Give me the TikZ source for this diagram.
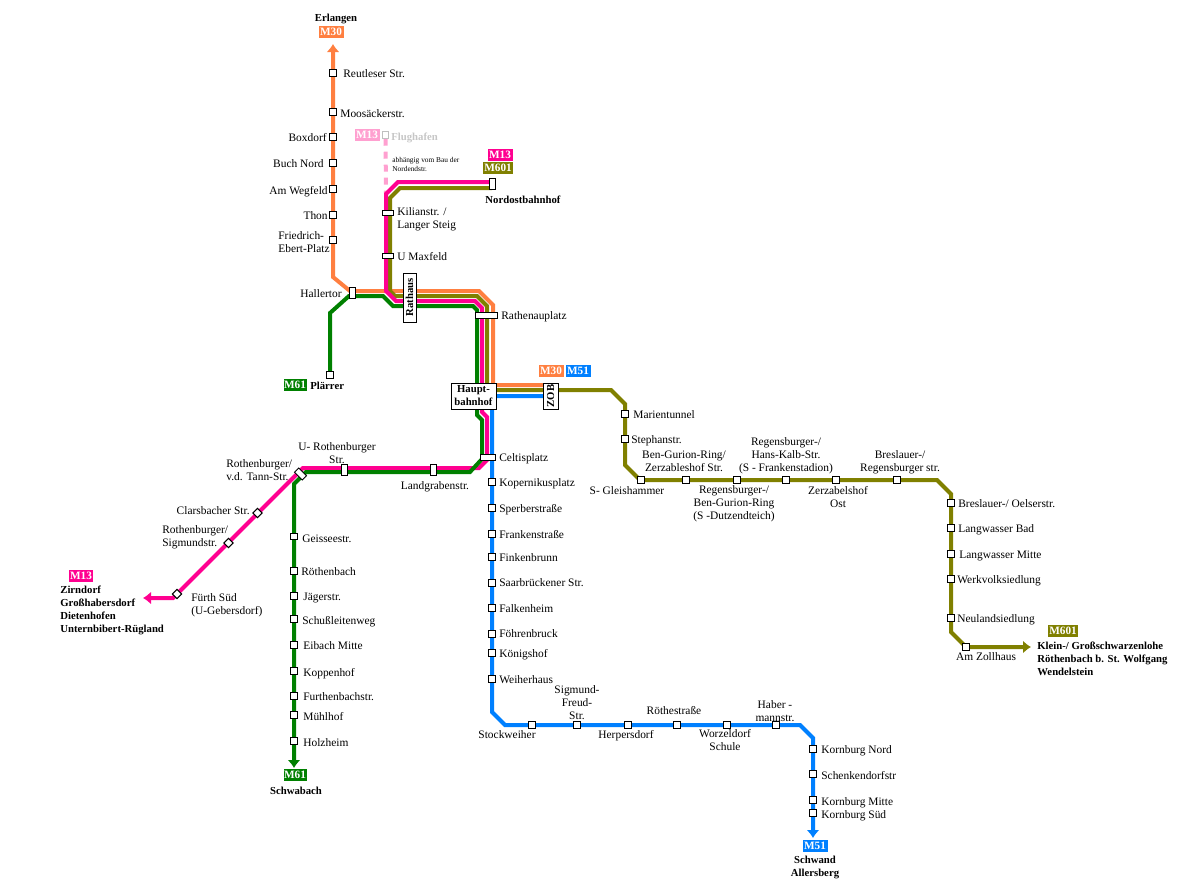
\documentclass[tikz,border=0pt]{standalone}
\usepackage{fontspec}
\setmainfont{Liberation Serif}
\usetikzlibrary{arrows.meta,backgrounds}
\definecolor{coltre}{HTML}{FF7F40}
\definecolor{colpink}{HTML}{FF0090}
\definecolor{colpale}{HTML}{FFA0D0}
\definecolor{cololive}{HTML}{808000}
\definecolor{colgreen}{HTML}{008000}
\definecolor{colblue}{HTML}{0080FF}
\newcommand{\lblsize}{\fontsize{6.5}{7.4}\selectfont}
\newcommand{\destsize}{\fontsize{6.1}{7.4}\selectfont\bfseries}
\newcommand{\tinysize}{\fontsize{4.2}{5.2}\selectfont}
\tikzset{
  stop/.style={draw,fill=white,line width=.55pt,inner sep=0pt,minimum width=.13cm,minimum height=.13cm},
  stopv/.style={stop,minimum width=.12cm,minimum height=.22cm},
  stoph/.style={stop,minimum width=.22cm,minimum height=.11cm},
  stopd/.style={stop,rotate=45},
  bigbox/.style={draw,fill=white,line width=.55pt,inner sep=0pt,font=\destsize,align=center},
  lbl/.style={font=\lblsize,inner sep=0pt,align=center,yshift=-.03cm,execute at begin node=\strut,execute at end node=\strut},
  lblw/.style={lbl,anchor=west,align=left},
  lble/.style={lbl,anchor=east,align=right},
  dest/.style={lbl,font=\destsize},
  tag/.style={fill=#1,text=white,font=\fontsize{6.4}{7.4}\selectfont\bfseries,inner sep=0pt,minimum height=.25cm,minimum width=.5cm},
  track/.style={line width=.08cm},
  tip/.style={-{Latex[length=.16cm,width=.26cm]}},
}
\begin{document}
\begin{tikzpicture}[x=.02cm,y=-.02cm]
  \useasboundingbox (0,0) rectangle (1200,890);
  % stops, M30 north
  \node[stop] (reutleser) at (333,73) {};
  \node[stop] (moosacker) at (333,112) {};
  \node[stop] (boxdorf) at (333,137) {};
  \node[stop] (buchnord) at (333,163) {};
  \node[stop] (wegfeld) at (333,189) {};
  \node[stop] (thon) at (333,215) {};
  \node[stop] (ebert) at (333,240) {};
  \node[stopv] (hallertor) at (352,293) {};
  \node[stop] (plaerrer) at (330,375) {};
  % stops, M13 and M601 north
  \node[stop,draw=gray!50] (flughafen) at (385.5,135) {};
  \node[stopv] (nordost) at (492,184) {};
  \node[stoph] (kilian) at (388,213) {};
  \node[stoph] (maxfeld) at (388,256) {};
  \node[stop,minimum width=.44cm,minimum height=.12cm] (rathenau) at (486,315) {};
  \node[bigbox,rotate=90,minimum width=.98cm,minimum height=.26cm] (rathaus) at (409.5,297.5) {Rathaus};
  \node[bigbox,minimum width=.9cm,minimum height=.52cm] (hbf) at (473.5,396) {Haupt-\\bahnhof};
  \node[bigbox,rotate=90,minimum width=.52cm,minimum height=.3cm] (zob) at (550.5,396) {ZOB};
  \node[stop,minimum width=.3cm,minimum height=.12cm] (celtis) at (488,457) {};
  % stops, M13 and M61 west
  \node[stopv] (landgraben) at (433,470) {};
  \node[stopv] (urothen) at (344,470) {};
  \node[stopv,rotate=45] (tann) at (300.5,474) {};
  \node[stopd] (clarsbach) at (257.5,513) {};
  \node[stopd] (sigmund) at (228.5,543) {};
  \node[stopd] (fuerth) at (177,594) {};
  \node[stop] (geisse) at (294,536.5) {};
  \node[stop] (roethenb) at (294,571) {};
  \node[stop] (jaeger) at (294,596) {};
  \node[stop] (schuss) at (294,619) {};
  \node[stop] (eibach) at (294,645) {};
  \node[stop] (koppen) at (294,671) {};
  \node[stop] (furthen) at (294,696) {};
  \node[stop] (muehlhof) at (294,715) {};
  \node[stop] (holzheim) at (294,741) {};
  % stops, M51
  \node[stop] (kopern) at (492,482) {};
  \node[stop] (sperber) at (492,508) {};
  \node[stop] (franken) at (492,534) {};
  \node[stop] (finken) at (492,557) {};
  \node[stop] (saar) at (492,583) {};
  \node[stop] (falken) at (492,608) {};
  \node[stop] (foehren) at (492,634) {};
  \node[stop] (koenig) at (492,653) {};
  \node[stop] (weiher) at (492,679) {};
  \node[stop] (stockw) at (532,725) {};
  \node[stop] (freud) at (577,725) {};
  \node[stop] (herpers) at (628,725) {};
  \node[stop] (roethe) at (677,725) {};
  \node[stop] (worzel) at (727,725) {};
  \node[stop] (haber) at (776,725) {};
  \node[stop] (knord) at (813,749) {};
  \node[stop] (schenk) at (813,774) {};
  \node[stop] (kmitte) at (813,800) {};
  \node[stop] (ksued) at (813,813) {};
  % stops, M601 east
  \node[stop] (marien) at (625,414) {};
  \node[stop] (stephan) at (625,439) {};
  \node[stop] (gleish) at (641,480) {};
  \node[stop] (bengurion) at (686,480) {};
  \node[stop] (dutzend) at (737,480) {};
  \node[stop] (kalb) at (786,480) {};
  \node[stop] (zerzab) at (836,480) {};
  \node[stop] (bresreg) at (897,480) {};
  \node[stop] (oelser) at (951,503) {};
  \node[stop] (lwbad) at (951,528) {};
  \node[stop] (lwmitte) at (951,554) {};
  \node[stop] (werkv) at (951,579) {};
  \node[stop] (neuland) at (951,618) {};
  \node[stop] (zollhaus) at (966,647) {};
  % bends and free ends
  \coordinate (m30end) at (333,44);
  \coordinate (m30a) at (333,277);
  \coordinate (m30b) at (350,291);
  \coordinate (m30c) at (479,291);
  \coordinate (m30d) at (493,305);
  \coordinate (m30e) at (493,385);
  \coordinate (m30f) at (545,385);
  \coordinate (olva) at (492,188);
  \coordinate (olvb) at (400,188);
  \coordinate (olvc) at (390,198);
  \coordinate (olvd) at (390,291);
  \coordinate (olve) at (395,296);
  \coordinate (olvf) at (477,296);
  \coordinate (olvg) at (487,306);
  \coordinate (olvh) at (487,390);
  \coordinate (olvi) at (611,390);
  \coordinate (olvj) at (625,404);
  \coordinate (olvk) at (625,465);
  \coordinate (olvl) at (640,480);
  \coordinate (olvm) at (937,480);
  \coordinate (olvn) at (951,494);
  \coordinate (olvo) at (951,632);
  \coordinate (olvp) at (966,647);
  \coordinate (m601end) at (1031,647);
  \coordinate (pnka) at (492,182);
  \coordinate (pnkb) at (398,182);
  \coordinate (pnkc) at (386,194);
  \coordinate (pnkd) at (386,291);
  \coordinate (pnke) at (396,301);
  \coordinate (pnkf) at (475,301);
  \coordinate (pnkg) at (482,308);
  \coordinate (pnkh) at (482,412);
  \coordinate (pnki) at (487,417);
  \coordinate (pnkj) at (487,460);
  \coordinate (pnkk) at (479,468);
  \coordinate (pnkl) at (303,468);
  \coordinate (pnkm) at (173,598);
  \coordinate (m13end) at (143,598);
  \coordinate (grna) at (330,313);
  \coordinate (grnb) at (349,296);
  \coordinate (grnc) at (383,296);
  \coordinate (grnd) at (393,306);
  \coordinate (grne) at (473,306);
  \coordinate (grnf) at (477,310);
  \coordinate (grng) at (477,415);
  \coordinate (grnh) at (482,420);
  \coordinate (grni) at (482,459);
  \coordinate (grnj) at (470,472);
  \coordinate (grnk) at (306,472);
  \coordinate (grnl) at (294,484);
  \coordinate (m61end) at (294,768);
  \coordinate (blua) at (545,396);
  \coordinate (blub) at (492,396);
  \coordinate (bluc) at (492,712);
  \coordinate (blud) at (505,725);
  \coordinate (blue) at (800,725);
  \coordinate (bluf) at (813,738);
  \coordinate (m51end) at (813,838);
  % the lines go under the stops
  \begin{scope}[on background layer]
    \draw[track,colpale,dash pattern=on .14cm off .12cm] (flughafen.south)--(pnkc);
    \draw[track,coltre,tip] (m30f)--(m30e)--(m30d)--(m30c)--(m30b)--(m30a)--(m30end);
    \draw[track,cololive,tip] (olva)--(olvb)--(olvc)--(olvd)--(olve)--(olvf)--(olvg)--(olvh)--(olvi)--(olvj)--(olvk)--(olvl)--(olvm)--(olvn)--(olvo)--(olvp)--(m601end);
    \draw[track,colpink,tip] (pnka)--(pnkb)--(pnkc)--(pnkd)--(pnke)--(pnkf)--(pnkg)--(pnkh)--(pnki)--(pnkj)--(pnkk)--(pnkl)--(pnkm)--(m13end);
    \draw[track,colgreen,tip] (plaerrer.center)--(grna)--(grnb)--(grnc)--(grnd)--(grne)--(grnf)--(grng)--(grnh)--(grni)--(grnj)--(grnk)--(grnl)--(m61end);
    \draw[track,colblue,tip] (blua)--(blub)--(bluc)--(blud)--(blue)--(bluf)--(m51end);
  \end{scope}
  % line tags
  \node[tag=coltre] (tagerl) at (331,32) {M30};
  \node[tag=colpale] (tagflug) at (367,135) {M13};
  \node[tag=colpink] (tagnordm) at (500,155) {M13};
  \node[tag=cololive,minimum width=.6cm] (tagnordo) at (498,168) {M601};
  \node[tag=colgreen,minimum width=.46cm] (tagplaer) at (295,385) {M61};
  \node[tag=coltre] (tagzoba) at (551,371) {M30};
  \node[tag=colblue] (tagzobb) at (578,371) {M51};
  \node[tag=colpink] (tagzirn) at (81,576) {M13};
  \node[tag=colgreen,minimum width=.46cm] (tagschw) at (295,775) {M61};
  \node[tag=colblue] (tagallers) at (815,846) {M51};
  \node[tag=cololive,minimum width=.6cm] (tagwend) at (1063,631) {M601};
  % destinations
  \node[dest] (erlangen) at (336,17) {Erlangen};
  \node[dest] (nordosttxt) at (523,199) {Nordostbahnhof};
  \node[dest,anchor=west] (plaerrertxt) at (310,385) {Plärrer};
  \node[dest,anchor=west,align=left] (zirndorf) at (60,610) {Zirndorf\\Großhabersdorf\\Dietenhofen\\Unternbibert-Rügland};
  \node[dest] (schwabach) at (296,790) {Schwabach};
  \node[dest] (schwand) at (815,867) {Schwand\\Allersberg};
  \node[dest,anchor=west,align=left] (wendel) at (1037,659) {Klein-/ Großschwarzenlohe\\Röthenbach b. St. Wolfgang\\Wendelstein};
  % stop names
  \node[lblw] (reutlesertxt) at (343,73) {Reutleser Str.};
  \node[lblw] (moosackertxt) at (340,113) {Moosäckerstr.};
  \node[lble] (boxdorftxt) at (327,137) {Boxdorf};
  \node[lble] (buchnordtxt) at (324,163) {Buch Nord};
  \node[lble] (wegfeldtxt) at (328,190) {Am Wegfeld};
  \node[lble] (thontxt) at (328,215) {Thon};
  \node[lblw] (eberttxt) at (278,242) {Friedrich-\\Ebert-Platz};
  \node[lble] (hallertortxt) at (342,293) {Hallertor};
  \node[lblw,text=gray!45,font=\destsize] (flughafentxt) at (391,136) {Flughafen};
  \node[lblw,font=\tinysize] (bautxt) at (392,164) {abhängig vom Bau der\\Nordendstr.};
  \node[lblw] (kiliantxt) at (397,218) {Kilianstr. /\\Langer Steig};
  \node[lblw] (maxfeldtxt) at (397,256) {U Maxfeld};
  \node[lblw] (rathenautxt) at (501,315) {Rathenauplatz};
  \node[lblw] (celtistxt) at (499,457) {Celtisplatz};
  \node[lblw] (koperntxt) at (499,482) {Kopernikusplatz};
  \node[lblw] (sperbertxt) at (499,508) {Sperberstraße};
  \node[lblw] (frankentxt) at (499,534) {Frankenstraße};
  \node[lblw] (finkentxt) at (499,557) {Finkenbrunn};
  \node[lblw] (saartxt) at (499,582) {Saarbrückener Str.};
  \node[lblw] (falkentxt) at (499,608) {Falkenheim};
  \node[lblw] (foehrentxt) at (499,633) {Föhrenbruck};
  \node[lblw] (koenigtxt) at (499,653) {Königshof};
  \node[lblw] (weihertxt) at (499,679) {Weiherhaus};
  \node[lbl] (stockwtxt) at (507,734) {Stockweiher};
  \node[lbl] (freudtxt) at (577,703) {Sigmund-\\Freud-\\Str.};
  \node[lbl] (herperstxt) at (626,734) {Herpersdorf};
  \node[lbl] (roethetxt) at (674,710) {Röthestraße};
  \node[lbl] (worzeltxt) at (725,740) {Worzeldorf\\Schule};
  \node[lbl] (habertxt) at (775,711) {Haber -\\mannstr.};
  \node[lblw] (knordtxt) at (821,749) {Kornburg Nord};
  \node[lblw] (schenktxt) at (821,775) {Schenkendorfstr};
  \node[lblw] (kmittetxt) at (821,801) {Kornburg Mitte};
  \node[lblw] (ksuedtxt) at (821,814) {Kornburg Süd};
  \node[lblw] (marientxt) at (633,414) {Marientunnel};
  \node[lblw] (stephantxt) at (631,439) {Stephanstr.};
  \node[lbl] (gleishtxt) at (627,490) {S- Gleishammer};
  \node[lbl] (bengurtxt) at (684,462) {Ben-Gurion-Ring/\\Zerzableshof Str.};
  \node[lbl] (dutztxt) at (734,503) {Regensburger-/\\Ben-Gurion-Ring\\(S -Dutzendteich)};
  \node[lbl] (kalbtxt) at (786,455) {Regensburger-/\\Hans-Kalb-Str.\\(S - Frankenstadion)};
  \node[lbl] (zerzabtxt) at (838,497) {Zerzabelshof\\Ost};
  \node[lbl] (bresregtxt) at (900,461) {Breslauer-/\\Regensburger str.};
  \node[lblw] (oelsertxt) at (958,503) {Breslauer-/ Oelserstr.};
  \node[lblw] (lwbadtxt) at (958,528) {Langwasser Bad};
  \node[lblw] (lwmittetxt) at (959,554) {Langwasser Mitte};
  \node[lblw] (werkvtxt) at (957,579) {Werkvolksiedlung};
  \node[lblw] (neulandtxt) at (957,618) {Neulandsiedlung};
  \node[lbl] (zollhaustxt) at (986,656) {Am Zollhaus};
  \node[lbl] (urothentxt) at (337,453) {U- Rothenburger\\Str.};
  \node[lblw] (tanntxt) at (226,470) {Rothenburger/\\v.d. Tann-Str.};
  \node[lbl] (landgrabentxt) at (435,485) {Landgrabenstr.};
  \node[lble] (clarsbachtxt) at (250,510) {Clarsbacher Str.};
  \node[lblw] (sigmundtxt) at (162,536) {Rothenburger/\\Sigmundstr.};
  \node[lblw] (fuerthtxt) at (191,604) {Fürth Süd\\(U-Gebersdorf)};
  \node[lblw] (geissetxt) at (302,538) {Geisseestr.};
  \node[lblw] (roethenbtxt) at (301,571) {Röthenbach};
  \node[lblw] (jaegertxt) at (303,596) {Jägerstr.};
  \node[lblw] (schusstxt) at (302,620) {Schußleitenweg};
  \node[lblw] (eibachtxt) at (303,645) {Eibach Mitte};
  \node[lblw] (koppentxt) at (303,672) {Koppenhof};
  \node[lblw] (furthentxt) at (303,696) {Furthenbachstr.};
  \node[lblw] (muehlhoftxt) at (303,716) {Mühlhof};
  \node[lblw] (holzheimtxt) at (303,742) {Holzheim};
\end{tikzpicture}
\end{document}
